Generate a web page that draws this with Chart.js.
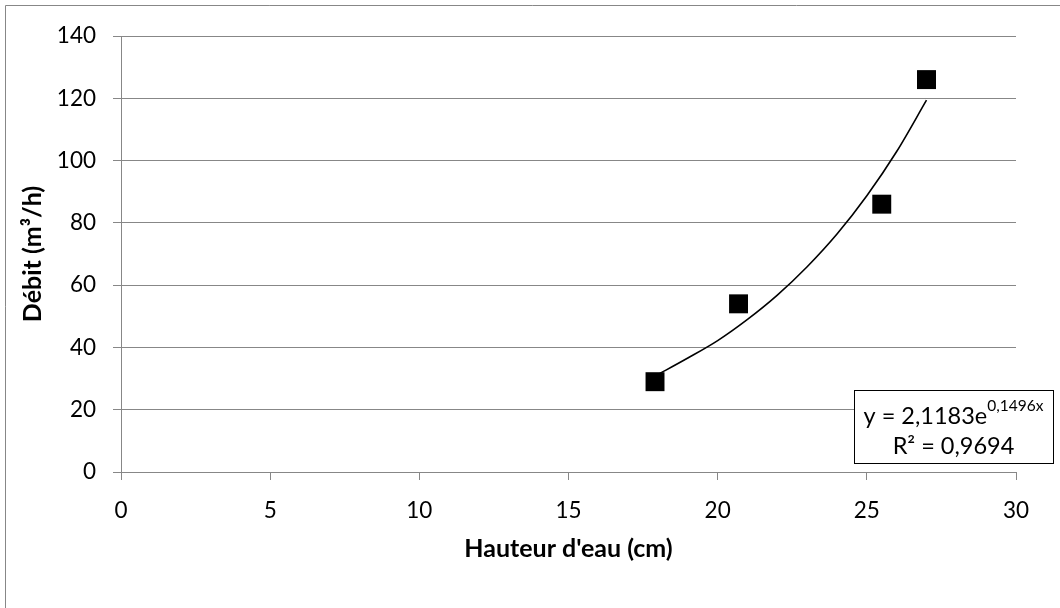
<!DOCTYPE html>
<html>
<head>
<meta charset="utf-8">
<script src="https://cdn.jsdelivr.net/npm/chart.js@4/dist/chart.umd.min.js"></script>
<style>
html,body{margin:0;padding:0;background:#fff;}
#wrap{width:1060px;height:608px;position:relative;}
</style>
</head>
<body>
<div id="wrap"><canvas id="c" width="1060" height="608"></canvas></div>
<script>
const hauteur = [17.9, 20.7, 25.5, 27.0];
const debit = [29, 54, 86, 126];
// Trendline points
const trendX = [17.9, 19, 20, 21, 22, 23, 24, 25, 26, 27];
const trendY = [30.8, 36.6, 42.2, 49.0, 56.8, 65.9, 76.4, 88.7, 102.9, 119.4];
// Axis ticks
const xTicks = [0, 5, 10, 15, 20, 25, 30];
const yTicks = [0, 20, 40, 60, 80, 100, 120, 140];
// Texts
const xTitle = "Hauteur d'eau (cm)";
const yTitle = "Débit (m³/h)";
const eqMain = "y = 2,1183e";
const eqExp = "0,1496x";
const r2Text = "R² = 0,9694";

const FONT = "Lato";
const GRID = "#878787";

const pts = hauteur.map((x, i) => ({x: x, y: debit[i]}));
const trend = trendX.map((x, i) => ({x: x, y: trendY[i]}));

const framePlugin = {
  id: 'frame',
  beforeDraw(chart) {
    const ctx = chart.ctx;
    ctx.save();
    ctx.fillStyle = '#fff';
    ctx.fillRect(0, 0, chart.width, chart.height);
    ctx.strokeStyle = GRID;
    ctx.lineWidth = 1;
    ctx.beginPath();
    ctx.moveTo(5.5, chart.height);
    ctx.lineTo(5.5, 5.5);
    ctx.lineTo(chart.width, 5.5);
    ctx.stroke();
    ctx.restore();
  }
};

const eqPlugin = {
  id: 'eqbox',
  afterDatasetsDraw(chart) {
    const ctx = chart.ctx;
    const a = chart.chartArea;
    const left = a.right - 162, right = a.right + 37;
    const top = a.bottom - 82, bottom = a.bottom - 9;
    ctx.save();
    ctx.fillStyle = '#fff';
    ctx.fillRect(left, top, right - left, bottom - top);
    ctx.strokeStyle = '#000';
    ctx.lineWidth = 1;
    ctx.strokeRect(Math.round(left) + 0.5, Math.round(top) + 0.5, right - left, bottom - top);
    const cx = (left + right) / 2;
    ctx.fillStyle = '#000';
    ctx.textBaseline = 'middle';
    const mainFont = "23.5px " + FONT;
    const expFont = "15.5px " + FONT;
    ctx.font = mainFont;
    const w1 = ctx.measureText(eqMain).width;
    ctx.font = expFont;
    const w2 = ctx.measureText(eqExp).width;
    const x0 = cx - (w1 + w2) / 2;
    ctx.textAlign = 'left';
    ctx.font = mainFont;
    ctx.fillText(eqMain, x0, top + 26);
    ctx.font = expFont;
    ctx.fillText(eqExp, x0 + w1, top + 16);
    ctx.font = mainFont;
    ctx.textAlign = 'center';
    ctx.fillText(r2Text, cx, top + 56);
    ctx.restore();
  }
};

new Chart(document.getElementById('c'), {
  type: 'scatter',
  data: {
    datasets: [
      {
        label: 'Débit',
        data: pts,
        pointStyle: 'rect',
        pointRadius: 13.4,
        pointHoverRadius: 13.4,
        backgroundColor: '#000',
        borderColor: '#000',
        borderWidth: 0,
        showLine: false,
        order: 1
      },
      {
        label: 'Tendance',
        type: 'line',
        data: trend,
        borderColor: '#000',
        borderWidth: 1.6,
        pointRadius: 0,
        fill: false,
        cubicInterpolationMode: 'monotone',
        order: 2
      }
    ]
  },
  options: {
    responsive: false,
    animation: false,
    events: [],
    layout: {padding: {top: 36, right: 44, bottom: 0, left: 0}},
    plugins: {legend: {display: false}, tooltip: {enabled: false}},
    scales: {
      x: {
        type: 'linear',
        min: xTicks[0], max: xTicks[xTicks.length - 1],
        afterBuildTicks(s) { s.ticks = xTicks.map(v => ({value: v})); },
        afterFit(s) { s.height = 136; },
        grid: {drawOnChartArea: false, drawTicks: true, tickLength: 8, color: GRID, lineWidth: 1},
        border: {display: true, color: GRID, width: 1},
        ticks: {color: '#000', font: {family: FONT, size: 22.5}, padding: 17},
        title: {display: true, text: xTitle, color: '#000', font: {family: FONT, size: 25, weight: 'bold'}, padding: {top: 0, bottom: 44}}
      },
      y: {
        type: 'linear',
        min: yTicks[0], max: yTicks[yTicks.length - 1],
        afterBuildTicks(s) { s.ticks = yTicks.map(v => ({value: v})); },
        afterFit(s) { s.width = 121; },
        grid: {drawOnChartArea: true, drawTicks: true, tickLength: 8, color: GRID, lineWidth: 1},
        border: {display: true, color: GRID, width: 1},
        ticks: {color: '#000', font: {family: FONT, size: 22.5}, padding: 17},
        title: {display: true, text: yTitle, color: '#000', font: {family: FONT, size: 25, weight: 'bold'}, padding: {top: 18, bottom: 0}}
      }
    }
  },
  plugins: [framePlugin, eqPlugin]
});
</script>
</body>
</html>
